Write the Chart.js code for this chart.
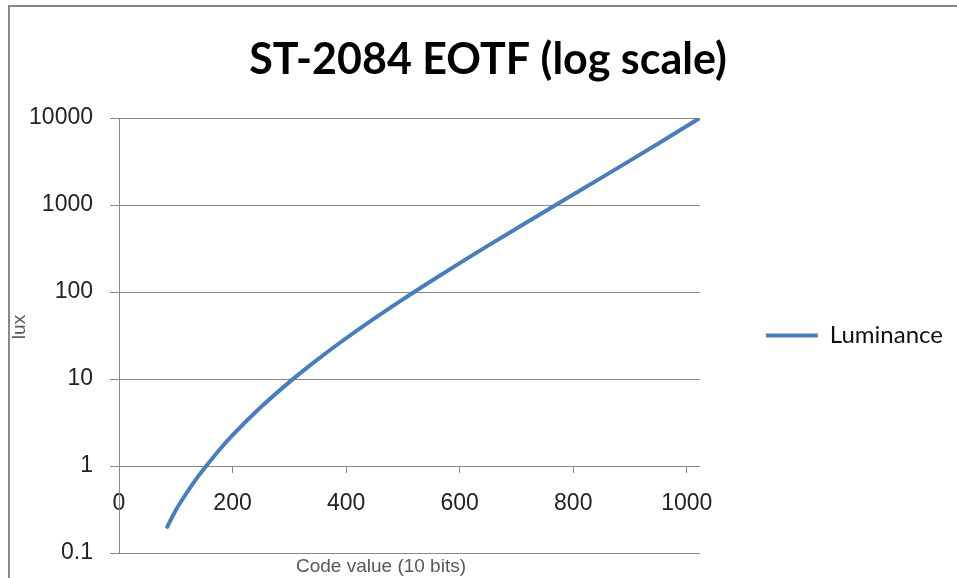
<!DOCTYPE html>
<html><head><meta charset="utf-8">
<script src="https://cdn.jsdelivr.net/npm/chart.js@4.4.1/dist/chart.umd.min.js"></script>
<style>
html,body{margin:0;padding:0;background:#fff;overflow:hidden}
#frame{position:absolute;left:8px;top:5px;width:1000px;height:1000px;border-left:2px solid #888;border-top:2px solid #888;box-sizing:border-box}
#wrap{position:absolute;left:0;top:0;width:957px;height:578px}
</style></head><body>
<div id="frame"></div>
<div id="wrap"><canvas id="c" width="957" height="578"></canvas></div>
<script>
const chartTitle = 'ST-2084 EOTF (log scale)';
const seriesName = 'Luminance';
const xAxisTitle = 'Code value (10 bits)';
const yAxisTitle = 'lux';
const codeValues = [85, 100, 120, 140, 160, 180, 200, 250, 300, 350, 400, 450, 500, 550, 600, 650, 700, 750, 800, 850, 900, 950, 1000, 1023];
const luminance  = [0.20, 0.31, 0.50, 0.77, 1.13, 1.62, 2.26, 4.76, 9.21, 16.8, 29.4, 49.8, 82.4, 134, 215, 341, 537, 843, 1319, 2065, 3239, 5097, 8077, 10000];
const xTicks = [0, 200, 400, 600, 800, 1000];
const yTicks = [0.1, 1, 10, 100, 1000, 10000];

const GRID = '#888888';
const axisTitlePlugin = {
  id: 'axisTitles',
  afterDraw(chart) {
    const ctx = chart.ctx, a = chart.chartArea;
    ctx.save();
    ctx.fillStyle = '#595959';
    ctx.font = '19px "Liberation Sans", Arial, sans-serif';
    ctx.textAlign = 'center';
    ctx.textBaseline = 'middle';
    ctx.fillText(xAxisTitle, a.left + 262, a.bottom + 14);
    ctx.translate(a.left - 99, 327);
    ctx.rotate(-Math.PI / 2);
    ctx.fillText(yAxisTitle, 0, 0);
    ctx.restore();
  }
};

new Chart(document.getElementById('c'), {
  type: 'line',
  data: {
    datasets: [{
      label: seriesName,
      data: codeValues.map((x, i) => ({x: x, y: luminance[i]})),
      borderColor: '#4A7EBB',
      backgroundColor: '#4A7EBB',
      borderWidth: 4,
      pointRadius: 0,
      pointHoverRadius: 0,
      cubicInterpolationMode: 'monotone',
      borderCapStyle: 'round',
      fill: false
    }]
  },
  options: {
    responsive: false,
    animation: false,
    events: [],
    layout: {padding: {left: 23, right: 4, top: 0, bottom: 25}},
    plugins: {
      title: {
        display: true, text: chartTitle, color: '#000',
        font: {family: 'Lato', weight: 'bold', size: 43, lineHeight: 1.2},
        padding: {top: 34, bottom: 32.4}
      },
      legend: {
        position: 'right', fullSize: false, maxWidth: 300,
        labels: {
          usePointStyle: true, pointStyle: 'line', pointStyleWidth: 52,
          font: {family: 'Lato', size: 24}, color: '#111', padding: 10
        }
      },
      tooltip: {enabled: false}
    },
    scales: {
      x: {
        type: 'linear', min: 0, max: 1023, position: {y: 1},
        afterBuildTicks: s => { s.ticks = xTicks.map(v => ({value: v})); },
        grid: {display: true, drawOnChartArea: false, drawTicks: true, tickLength: 6, color: GRID},
        border: {display: true, color: GRID},
        ticks: {padding: 18, color: '#222', maxRotation: 0, autoSkip: false, callback: v => String(v),
                font: {family: 'Liberation Sans', size: 23}}
      },
      y: {
        type: 'logarithmic', min: 0.1, max: 10000,
        afterBuildTicks: s => { s.ticks = yTicks.map(v => ({value: v})); },
        afterFit: s => { s.width = 96; },
        grid: {color: GRID, tickLength: 9},
        border: {display: true, color: GRID},
        ticks: {padding: 17, color: '#222', autoSkip: false, callback: v => String(v),
                font: {family: 'Liberation Sans', size: 23, lineHeight: 0.6}}
      },
      gap: {
        type: 'linear', position: 'right', display: true,
        grid: {display: false}, border: {display: false}, ticks: {display: false},
        afterFit: s => { s.width = 56; }
      }
    }
  },
  plugins: [axisTitlePlugin]
});
</script>
</body></html>
